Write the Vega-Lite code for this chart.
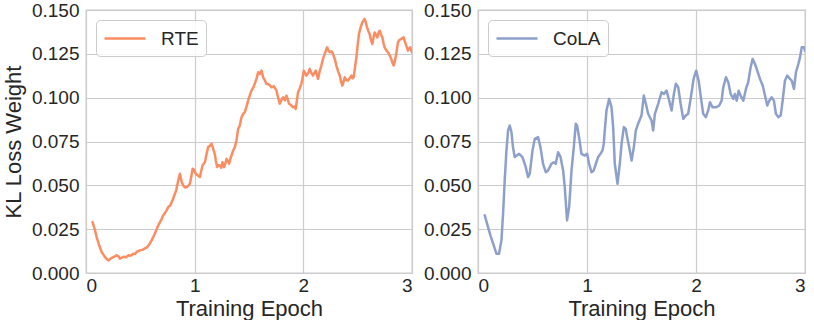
{
  "$schema": "https://vega.github.io/schema/vega-lite/v6.json",
  "padding": {"left": 1, "top": 0, "right": 0, "bottom": 0},
  "background": "white",
  "config": {
    "font": "Liberation Sans",
    "view": {"stroke": "#cccccc", "strokeWidth": 1.3},
    "axis": {
      "grid": true, "gridColor": "#cccccc", "gridWidth": 1.2,
      "domain": false, "ticks": false,
      "labelFont": "Liberation Sans", "labelFontSize": 19, "labelColor": "#262626",
      "titleFont": "Liberation Sans", "titleFontSize": 22, "titleFontWeight": "normal", "titleColor": "#262626"
    },
    "legend": {
      "orient": "top-left", "offset": 10, "title": null,
      "symbolType": "M-1,0H3.1", "symbolSize": 400, "symbolStrokeWidth": 2.5,
      "labelFont": "Liberation Sans", "labelFontSize": 19, "labelColor": "#262626", "labelOffset": 35,
      "padding": 7, "cornerRadius": 4, "strokeColor": "#cccccc", "fillColor": "rgba(255,255,255,0.85)"
    }
  },
  "datasets": {
    "rte": [
      {"epoch":0.06,"weight":0.029},{"epoch":0.08,"weight":0.025},{"epoch":0.098,"weight":0.0205},{"epoch":0.12,"weight":0.016},{"epoch":0.144,"weight":0.012},{"epoch":0.17,"weight":0.0095},{"epoch":0.19,"weight":0.008},{"epoch":0.205,"weight":0.0072},{"epoch":0.22,"weight":0.0078},{"epoch":0.235,"weight":0.0085},{"epoch":0.251,"weight":0.0091},{"epoch":0.265,"weight":0.0095},{"epoch":0.282,"weight":0.0101},{"epoch":0.3,"weight":0.0094},{"epoch":0.312,"weight":0.0082},{"epoch":0.33,"weight":0.0088},{"epoch":0.35,"weight":0.0093},{"epoch":0.37,"weight":0.009},{"epoch":0.389,"weight":0.0101},{"epoch":0.41,"weight":0.0098},{"epoch":0.435,"weight":0.011},{"epoch":0.45,"weight":0.0108},{"epoch":0.47,"weight":0.0122},{"epoch":0.496,"weight":0.0129},{"epoch":0.52,"weight":0.0132},{"epoch":0.54,"weight":0.014},{"epoch":0.558,"weight":0.0145},{"epoch":0.58,"weight":0.016},{"epoch":0.604,"weight":0.0186},{"epoch":0.63,"weight":0.022},{"epoch":0.665,"weight":0.0272},{"epoch":0.69,"weight":0.03},{"epoch":0.711,"weight":0.0329},{"epoch":0.73,"weight":0.0345},{"epoch":0.757,"weight":0.0376},{"epoch":0.775,"weight":0.0385},{"epoch":0.788,"weight":0.0404},{"epoch":0.8,"weight":0.042},{"epoch":0.818,"weight":0.0452},{"epoch":0.83,"weight":0.047},{"epoch":0.839,"weight":0.0499},{"epoch":0.85,"weight":0.053},{"epoch":0.864,"weight":0.0566},{"epoch":0.88,"weight":0.052},{"epoch":0.895,"weight":0.0499},{"epoch":0.91,"weight":0.0488},{"epoch":0.925,"weight":0.049},{"epoch":0.94,"weight":0.0496},{"epoch":0.956,"weight":0.0509},{"epoch":0.97,"weight":0.0555},{"epoch":0.981,"weight":0.0595},{"epoch":0.992,"weight":0.059},{"epoch":1.002,"weight":0.0575},{"epoch":1.02,"weight":0.056},{"epoch":1.048,"weight":0.0547},{"epoch":1.06,"weight":0.058},{"epoch":1.072,"weight":0.0613},{"epoch":1.085,"weight":0.0625},{"epoch":1.094,"weight":0.0632},{"epoch":1.11,"weight":0.068},{"epoch":1.124,"weight":0.0718},{"epoch":1.14,"weight":0.0725},{"epoch":1.155,"weight":0.0737},{"epoch":1.17,"weight":0.071},{"epoch":1.185,"weight":0.068},{"epoch":1.195,"weight":0.064},{"epoch":1.207,"weight":0.0604},{"epoch":1.22,"weight":0.0615},{"epoch":1.232,"weight":0.0613},{"epoch":1.245,"weight":0.06},{"epoch":1.256,"weight":0.0632},{"epoch":1.271,"weight":0.0604},{"epoch":1.283,"weight":0.0625},{"epoch":1.293,"weight":0.0651},{"epoch":1.305,"weight":0.064},{"epoch":1.317,"weight":0.0623},{"epoch":1.328,"weight":0.065},{"epoch":1.339,"weight":0.067},{"epoch":1.355,"weight":0.07},{"epoch":1.37,"weight":0.0718},{"epoch":1.385,"weight":0.0756},{"epoch":1.4,"weight":0.0822},{"epoch":1.415,"weight":0.084},{"epoch":1.431,"weight":0.0888},{"epoch":1.445,"weight":0.0905},{"epoch":1.461,"weight":0.0917},{"epoch":1.475,"weight":0.0945},{"epoch":1.492,"weight":0.0983},{"epoch":1.508,"weight":0.1015},{"epoch":1.523,"weight":0.104},{"epoch":1.538,"weight":0.1055},{"epoch":1.553,"weight":0.1079},{"epoch":1.57,"weight":0.111},{"epoch":1.584,"weight":0.1145},{"epoch":1.6,"weight":0.1135},{"epoch":1.615,"weight":0.1154},{"epoch":1.63,"weight":0.1116},{"epoch":1.645,"weight":0.11},{"epoch":1.66,"weight":0.1079},{"epoch":1.685,"weight":0.1075},{"epoch":1.707,"weight":0.1059},{"epoch":1.73,"weight":0.1065},{"epoch":1.753,"weight":0.104},{"epoch":1.768,"weight":0.1},{"epoch":1.783,"weight":0.0965},{"epoch":1.8,"weight":0.099},{"epoch":1.814,"weight":0.1002},{"epoch":1.83,"weight":0.0985},{"epoch":1.845,"weight":0.1012},{"epoch":1.857,"weight":0.099},{"epoch":1.869,"weight":0.0965},{"epoch":1.89,"weight":0.0955},{"epoch":1.906,"weight":0.0945},{"epoch":1.918,"weight":0.095},{"epoch":1.93,"weight":0.0936},{"epoch":1.94,"weight":0.098},{"epoch":1.951,"weight":0.1031},{"epoch":1.965,"weight":0.105},{"epoch":1.982,"weight":0.1079},{"epoch":1.993,"weight":0.111},{"epoch":2.004,"weight":0.1154},{"epoch":2.016,"weight":0.114},{"epoch":2.028,"weight":0.1126},{"epoch":2.045,"weight":0.114},{"epoch":2.059,"weight":0.1164},{"epoch":2.075,"weight":0.114},{"epoch":2.089,"weight":0.1126},{"epoch":2.1,"weight":0.114},{"epoch":2.114,"weight":0.1154},{"epoch":2.125,"weight":0.113},{"epoch":2.135,"weight":0.1107},{"epoch":2.15,"weight":0.115},{"epoch":2.166,"weight":0.1183},{"epoch":2.18,"weight":0.122},{"epoch":2.197,"weight":0.125},{"epoch":2.208,"weight":0.127},{"epoch":2.218,"weight":0.1287},{"epoch":2.23,"weight":0.127},{"epoch":2.243,"weight":0.1259},{"epoch":2.258,"weight":0.1265},{"epoch":2.273,"weight":0.125},{"epoch":2.29,"weight":0.122},{"epoch":2.304,"weight":0.1183},{"epoch":2.32,"weight":0.115},{"epoch":2.335,"weight":0.1126},{"epoch":2.348,"weight":0.109},{"epoch":2.359,"weight":0.1069},{"epoch":2.37,"weight":0.109},{"epoch":2.381,"weight":0.1116},{"epoch":2.395,"weight":0.11},{"epoch":2.411,"weight":0.1097},{"epoch":2.425,"weight":0.111},{"epoch":2.442,"weight":0.1126},{"epoch":2.452,"weight":0.111},{"epoch":2.463,"weight":0.1116},{"epoch":2.475,"weight":0.117},{"epoch":2.488,"weight":0.123},{"epoch":2.5,"weight":0.13},{"epoch":2.512,"weight":0.1363},{"epoch":2.527,"weight":0.14},{"epoch":2.543,"weight":0.143},{"epoch":2.564,"weight":0.1449},{"epoch":2.575,"weight":0.143},{"epoch":2.586,"weight":0.1401},{"epoch":2.598,"weight":0.138},{"epoch":2.61,"weight":0.1363},{"epoch":2.622,"weight":0.133},{"epoch":2.635,"weight":0.1306},{"epoch":2.645,"weight":0.134},{"epoch":2.656,"weight":0.1372},{"epoch":2.668,"weight":0.136},{"epoch":2.681,"weight":0.1344},{"epoch":2.692,"weight":0.137},{"epoch":2.702,"weight":0.1382},{"epoch":2.715,"weight":0.136},{"epoch":2.727,"weight":0.1344},{"epoch":2.738,"weight":0.131},{"epoch":2.748,"weight":0.1287},{"epoch":2.764,"weight":0.127},{"epoch":2.779,"weight":0.1259},{"epoch":2.795,"weight":0.124},{"epoch":2.809,"weight":0.1221},{"epoch":2.82,"weight":0.12},{"epoch":2.831,"weight":0.1183},{"epoch":2.84,"weight":0.12},{"epoch":2.849,"weight":0.123},{"epoch":2.86,"weight":0.127},{"epoch":2.871,"weight":0.1316},{"epoch":2.885,"weight":0.133},{"epoch":2.902,"weight":0.1335},{"epoch":2.912,"weight":0.134},{"epoch":2.923,"weight":0.1344},{"epoch":2.935,"weight":0.132},{"epoch":2.947,"weight":0.1297},{"epoch":2.963,"weight":0.1268},{"epoch":2.975,"weight":0.128},{"epoch":2.984,"weight":0.1287},{"epoch":2.993,"weight":0.127},{"epoch":3.0,"weight":0.1259}
    ],
    "cola": [
      {"epoch":0.062,"weight":0.0329},{"epoch":0.092,"weight":0.0262},{"epoch":0.114,"weight":0.0215},{"epoch":0.144,"weight":0.0158},{"epoch":0.169,"weight":0.011},{"epoch":0.193,"weight":0.011},{"epoch":0.215,"weight":0.0186},{"epoch":0.23,"weight":0.0338},{"epoch":0.245,"weight":0.0528},{"epoch":0.261,"weight":0.0699},{"epoch":0.276,"weight":0.0813},{"epoch":0.291,"weight":0.0841},{"epoch":0.307,"weight":0.0803},{"epoch":0.321,"weight":0.0718},{"epoch":0.337,"weight":0.0661},{"epoch":0.377,"weight":0.068},{"epoch":0.408,"weight":0.0661},{"epoch":0.438,"weight":0.0604},{"epoch":0.459,"weight":0.0547},{"epoch":0.475,"weight":0.0566},{"epoch":0.5,"weight":0.0699},{"epoch":0.521,"weight":0.0765},{"epoch":0.551,"weight":0.0775},{"epoch":0.573,"weight":0.0718},{"epoch":0.597,"weight":0.0623},{"epoch":0.622,"weight":0.0575},{"epoch":0.643,"weight":0.0585},{"epoch":0.674,"weight":0.0623},{"epoch":0.695,"weight":0.0632},{"epoch":0.713,"weight":0.0623},{"epoch":0.735,"weight":0.0689},{"epoch":0.757,"weight":0.0661},{"epoch":0.781,"weight":0.0585},{"epoch":0.796,"weight":0.049},{"epoch":0.817,"weight":0.03},{"epoch":0.836,"weight":0.0376},{"epoch":0.858,"weight":0.0585},{"epoch":0.879,"weight":0.0718},{"epoch":0.897,"weight":0.0851},{"epoch":0.909,"weight":0.0841},{"epoch":0.927,"weight":0.0775},{"epoch":0.949,"weight":0.068},{"epoch":0.98,"weight":0.067},{"epoch":1.001,"weight":0.068},{"epoch":1.019,"weight":0.0623},{"epoch":1.041,"weight":0.0575},{"epoch":1.062,"weight":0.0585},{"epoch":1.081,"weight":0.0623},{"epoch":1.102,"weight":0.0661},{"epoch":1.124,"weight":0.068},{"epoch":1.142,"weight":0.0699},{"epoch":1.154,"weight":0.0737},{"epoch":1.163,"weight":0.0813},{"epoch":1.179,"weight":0.0927},{"epoch":1.203,"weight":0.0993},{"epoch":1.225,"weight":0.0945},{"epoch":1.24,"weight":0.0832},{"epoch":1.255,"weight":0.0623},{"epoch":1.28,"weight":0.0509},{"epoch":1.301,"weight":0.0623},{"epoch":1.317,"weight":0.0737},{"epoch":1.338,"weight":0.0832},{"epoch":1.356,"weight":0.0822},{"epoch":1.368,"weight":0.0775},{"epoch":1.387,"weight":0.0718},{"epoch":1.409,"weight":0.0642},{"epoch":1.43,"weight":0.0718},{"epoch":1.448,"weight":0.0813},{"epoch":1.469,"weight":0.0851},{"epoch":1.5,"weight":0.0898},{"epoch":1.521,"weight":0.1012},{"epoch":1.54,"weight":0.0965},{"epoch":1.561,"weight":0.0908},{"epoch":1.592,"weight":0.087},{"epoch":1.607,"weight":0.0813},{"epoch":1.623,"weight":0.0908},{"epoch":1.653,"weight":0.0965},{"epoch":1.684,"weight":0.1031},{"epoch":1.705,"weight":0.1021},{"epoch":1.73,"weight":0.104},{"epoch":1.754,"weight":0.0983},{"epoch":1.776,"weight":0.0927},{"epoch":1.797,"weight":0.1021},{"epoch":1.815,"weight":0.1079},{"epoch":1.837,"weight":0.1059},{"epoch":1.859,"weight":0.0965},{"epoch":1.883,"weight":0.0879},{"epoch":1.907,"weight":0.0898},{"epoch":1.928,"weight":0.0908},{"epoch":1.953,"weight":0.1002},{"epoch":1.978,"weight":0.1107},{"epoch":2.002,"weight":0.1154},{"epoch":2.024,"weight":0.1097},{"epoch":2.045,"weight":0.1002},{"epoch":2.066,"weight":0.0908},{"epoch":2.091,"weight":0.0889},{"epoch":2.112,"weight":0.0927},{"epoch":2.128,"weight":0.0974},{"epoch":2.152,"weight":0.0945},{"epoch":2.182,"weight":0.0945},{"epoch":2.213,"weight":0.0955},{"epoch":2.235,"weight":0.0983},{"epoch":2.25,"weight":0.1059},{"epoch":2.275,"weight":0.1116},{"epoch":2.296,"weight":0.1088},{"epoch":2.318,"weight":0.1021},{"epoch":2.342,"weight":0.0993},{"epoch":2.357,"weight":0.1021},{"epoch":2.373,"weight":0.0983},{"epoch":2.391,"weight":0.104},{"epoch":2.409,"weight":0.1012},{"epoch":2.434,"weight":0.0983},{"epoch":2.458,"weight":0.105},{"epoch":2.479,"weight":0.1088},{"epoch":2.501,"weight":0.1173},{"epoch":2.52,"weight":0.1221},{"epoch":2.541,"weight":0.1192},{"epoch":2.562,"weight":0.1154},{"epoch":2.587,"weight":0.1107},{"epoch":2.612,"weight":0.1069},{"epoch":2.633,"weight":0.1012},{"epoch":2.654,"weight":0.0955},{"epoch":2.672,"weight":0.0983},{"epoch":2.694,"weight":0.1002},{"epoch":2.715,"weight":0.0983},{"epoch":2.733,"weight":0.0908},{"epoch":2.755,"weight":0.0889},{"epoch":2.777,"weight":0.0898},{"epoch":2.795,"weight":0.0983},{"epoch":2.816,"weight":0.1097},{"epoch":2.837,"weight":0.1126},{"epoch":2.862,"weight":0.1107},{"epoch":2.878,"weight":0.1097},{"epoch":2.899,"weight":0.105},{"epoch":2.917,"weight":0.1145},{"epoch":2.939,"weight":0.1192},{"epoch":2.954,"weight":0.123},{"epoch":2.97,"weight":0.1287},{"epoch":2.991,"weight":0.1287},{"epoch":3.0,"weight":0.1268}
    ]
  },
  "hconcat": [
    {
      "width": 326, "height": 263,
      "data": {"name": "rte"},
      "transform": [{"calculate": "'RTE'", "as": "task"}],
      "mark": {"type": "line", "strokeWidth": 2.5, "strokeCap": "round", "strokeJoin": "round", "clip": true},
      "encoding": {
        "x": {"field": "epoch", "type": "quantitative", "scale": {"domain": [0, 3], "nice": false}, "axis": {"values": [0, 1, 2, 3], "title": "Training Epoch", "labelPadding": 3, "titlePadding": 3}},
        "y": {"field": "weight", "type": "quantitative", "scale": {"domain": [0, 0.15], "nice": false}, "axis": {"values": [0, 0.025, 0.05, 0.075, 0.1, 0.125, 0.15], "format": ".3f", "title": "KL Loss Weight", "labelPadding": 7, "titlePadding": 6}},
        "color": {"field": "task", "type": "nominal", "scale": {"domain": ["RTE"], "range": ["#fc8d62"]}}
      }
    },
    {
      "width": 327, "height": 263,
      "data": {"name": "cola"},
      "transform": [{"calculate": "'CoLA'", "as": "task"}],
      "mark": {"type": "line", "strokeWidth": 2.5, "strokeCap": "round", "strokeJoin": "round", "clip": true},
      "encoding": {
        "x": {"field": "epoch", "type": "quantitative", "scale": {"domain": [0, 3], "nice": false}, "axis": {"values": [0, 1, 2, 3], "title": "Training Epoch", "labelPadding": 3, "titlePadding": 3}},
        "y": {"field": "weight", "type": "quantitative", "scale": {"domain": [0, 0.15], "nice": false}, "axis": {"values": [0, 0.025, 0.05, 0.075, 0.1, 0.125, 0.15], "format": ".3f", "title": null, "labelPadding": 7}},
        "color": {"field": "task", "type": "nominal", "scale": {"domain": ["CoLA"], "range": ["#8da0cb"]}}
      }
    }
  ],
  "spacing": 66,
  "bounds": "flush",
  "resolve": {"scale": {"color": "independent", "x": "independent", "y": "independent"}, "legend": {"color": "independent"}}
}
